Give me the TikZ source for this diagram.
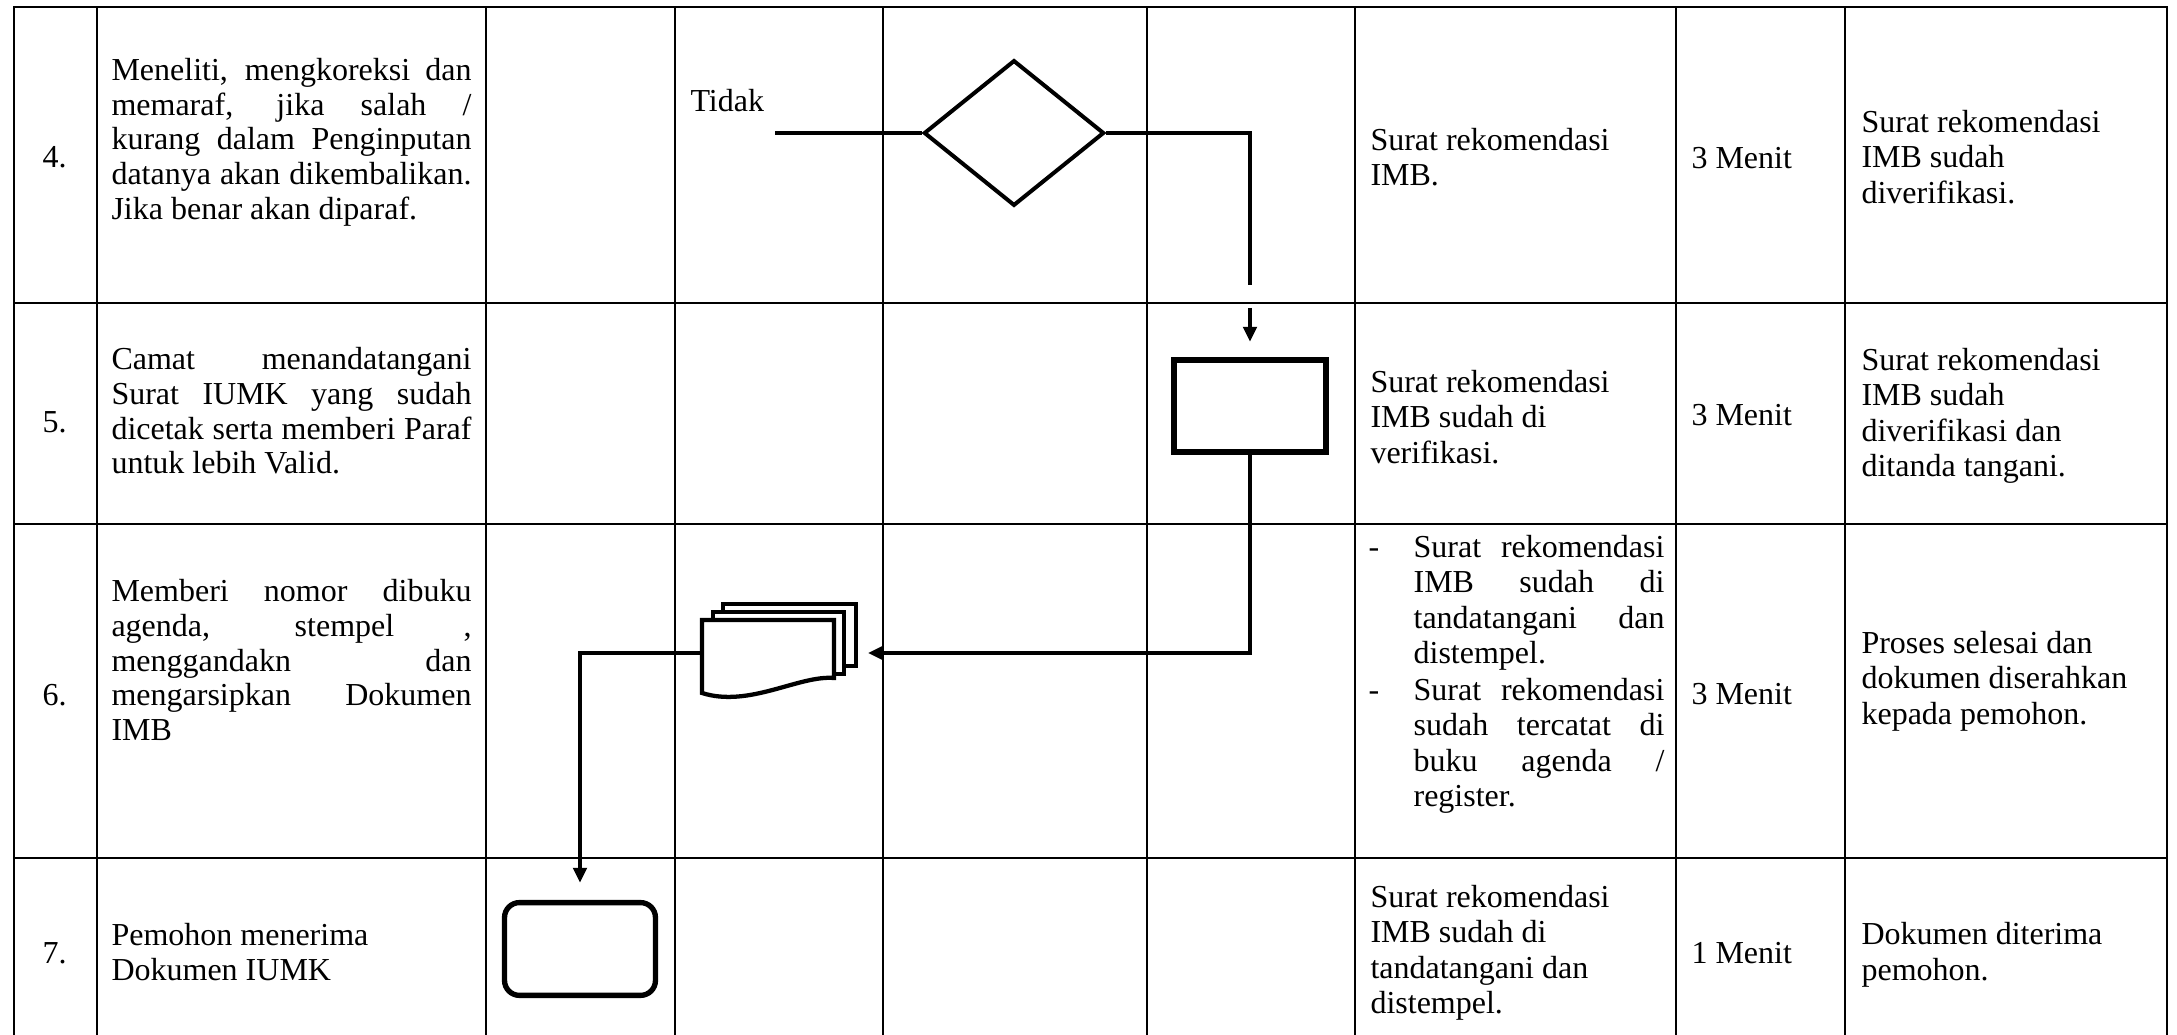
\documentclass[tikz,border=0pt]{standalone}
\usepackage{fontspec}
\setmainfont{Liberation Serif}
\usetikzlibrary{shapes.geometric,arrows.meta}
\tolerance=10000
\hbadness=10000
\setlength{\parindent}{0pt}

\tikzset{
  garis/.style={line width=0.9pt,line cap=rect},
  alur/.style={line width=1.5pt},
  panah/.style={alur,-{Triangle[length=5.6pt,width=5pt]}},
  teks/.style={anchor=west,inner sep=0pt,font=\fontsize{12pt}{13.3pt}\selectfont},
  rata/.style={teks,text width=135pt,align=justify,font=\fontsize{12pt}{13pt}\selectfont},
  kiri/.style={teks,align=left},
  butir/.style={teks,text width=111pt,align=justify},
  keputusan/.style={diamond,draw,line width=1.5pt,inner sep=0pt,minimum width=67.6pt,minimum height=54.6pt},
  proses/.style={rectangle,draw,line width=2pt,minimum width=57pt,minimum height=34.5pt},
  terminal/.style={rectangle,draw,line width=2pt,rounded corners=5.6pt,minimum width=56.6pt,minimum height=34.8pt},
  tumpuk/.style={rectangle,inner sep=0pt,outer sep=0pt,minimum width=59.25pt,minimum height=37.5pt},
  lembar/.style={line width=1.6pt,fill=white},
}

\begin{document}
\begin{tikzpicture}[x=0.375pt,y=-0.375pt]
\useasboundingbox (0,0) rectangle (2177,1035);

\draw[garis] (14,7) -- (2167,7) (14,303) -- (2167,303) (14,524) -- (2167,524) (14,858) -- (2167,858);
\draw[garis] (14,7) -- (14,1040) (97,7) -- (97,1040) (486,7) -- (486,1040) (675,7) -- (675,1040) (883,7) -- (883,1040);
\draw[garis] (1147,7) -- (1147,1040) (1355,7) -- (1355,1040) (1676,7) -- (1676,1040) (1845,7) -- (1845,1040) (2167,7) -- (2167,1040);

\node[teks] (n4) at (42,157) {4.};
\node[teks] (n5) at (42,422) {5.};
\node[teks] (n6) at (42,695) {6.};
\node[teks] (n7) at (42,953) {7.};

\node[rata] (u4) at (111,142) {Meneliti, mengkoreksi dan\break memaraf, jika salah /\break kurang dalam Penginputan\break datanya akan dikembalikan.\break Jika benar akan diparaf.};
\node[rata] (u5) at (111,411) {Camat menandatangani\break Surat IUMK yang sudah\break dicetak serta memberi Paraf\break untuk lebih Valid.};
\node[rata] (u6) at (111,660) {Memberi nomor dibuku\break agenda, stempel ,\break menggandakn dan\break mengarsipkan Dokumen\break IMB};
\node[kiri] (u7) at (111,952) {Pemohon menerima\\Dokumen IUMK};

\node[teks] (tidak) at (690,101) {Tidak};
\coordinate (awal) at (775,133);
\node[keputusan] (cek) at (1014,133) {};
\coordinate (putus) at (1250,285);
\coordinate (sambung) at (1250,308);
\node[proses] (verif) at (1250,406) {};
\node[tumpuk] (arsip) at (779,653) {};
\node[terminal] (selesai) at (580,949) {};

\begin{scope}[shift={(arsip.center)}]
\draw[lembar] (-56,-49) rectangle (77,13);
\draw[lembar] (-66,-41) rectangle (65,21);
\draw[lembar] (-77,-33) -- (55,-33) -- (55,25) .. controls (20,22) and (-30,55) .. (-77,40) -- cycle;
\end{scope}

\draw[alur] (awal) -- (cek.west);
\draw[alur] (cek.east) -| (putus);
\draw[panah,shorten >=5.8pt] (sambung) -- (verif.north);
\draw[panah,shorten >=3.75pt] (verif.south) |- (arsip.east);
\draw[panah,shorten >=6.4pt] (arsip.west) -| (selesai.north);

\node[kiri] (h4) at (1370,157) {Surat rekomendasi\\IMB.};
\node[kiri] (h5) at (1370,417) {Surat rekomendasi\\IMB sudah di\\verifikasi.};
\node[butir] (h6a) at (1368,603) {\hangindent=16.9pt\hangafter=1\makebox[16.9pt][l]{-}Surat rekomendasi\break IMB sudah di\break tandatangani dan\break distempel.\par};
\node[butir] (h6b) at (1368,746) {\hangindent=16.9pt\hangafter=1\makebox[16.9pt][l]{-}Surat rekomendasi\break sudah tercatat di\break buku agenda /\break register.\par};
\node[kiri] (h7) at (1370,953) {Surat rekomendasi\\IMB sudah di\\tandatangani dan\\distempel.};

\node[teks] (w4) at (1691,158) {3 Menit};
\node[teks] (w5) at (1691,415) {3 Menit};
\node[teks] (w6) at (1691,694) {3 Menit};
\node[teks] (w7) at (1691,953) {1 Menit};

\node[kiri] (o4) at (1861,157) {Surat rekomendasi\\IMB sudah\\diverifikasi.};
\node[kiri] (o5) at (1861,416) {Surat rekomendasi\\IMB sudah\\diverifikasi dan\\ditanda tangani.};
\node[kiri] (o6) at (1861,681) {Proses selesai dan\\dokumen diserahkan\\kepada pemohon.};
\node[kiri] (o7) at (1861,955) {Dokumen diterima\\pemohon.};

\end{tikzpicture}
\end{document}
